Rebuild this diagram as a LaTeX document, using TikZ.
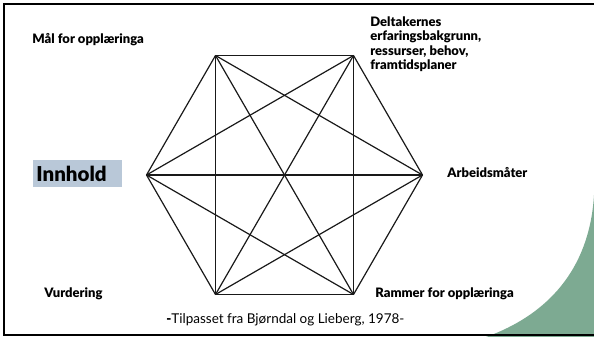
\documentclass[tikz,border=0pt]{standalone}
\usepackage{fontspec}
\setmainfont{Lato}[BoldFont={Lato Black}]
\usetikzlibrary{calc,positioning}
\definecolor{slidegreen}{HTML}{7DAA92}
\definecolor{boxblue}{HTML}{B9C8D8}
\tikzset{every picture/.style={line width=0.75pt}}

\begin{document}
\begin{tikzpicture}[x=1pt,y=-1pt,
    lbl/.style={font=\fontsize{13}{14.2}\selectfont\bfseries, anchor=west, inner sep=0pt, align=left},
    edge/.style={line width=1.2pt, black!90}]
    \useasboundingbox (0,0) rectangle (594,337);
    % green corner
    \fill[slidegreen] (486,337) .. controls (555,312) and (590,262) .. (594,195) -- (594,337) -- cycle;
    % frame
    \draw[line width=2.5pt] (594,4) -- (4,4) -- (4,335) -- (594,335);
    % hexagon corners
    \coordinate (c) at (284.5,175);
    \foreach \i in {1,...,6}
        \coordinate (v\i) at ($(c)+(\i*60:138)$);
    % every corner joined to every other
    \foreach \i in {1,...,6}
        \foreach \j in {1,...,6}
            {\ifnum\i<\j \draw[edge] (v\i) -- (v\j); \fi}
    % labels
    \node[lbl] (mal) at (32,40) {Mål for opplæringa};
    \node[lbl, anchor=north west] (deltakere) at (370,16.5) {Deltakernes\\erfaringsbakgrunn,\\ressurser, behov,\\framtidsplaner};
    \node[fill=boxblue, anchor=west, minimum height=27pt, text width=83pt, inner xsep=3pt,
          font=\fontsize{20.5}{24}\selectfont\bfseries] (innhold) at (33,173.5) {Innhold};
    \node[lbl] (arbeid) at (447,172) {Arbeidsmåter};
    \node[lbl] (vurdering) at (44,294) {Vurdering};
    \node[lbl] (rammer) at (375,294) {Rammer for opplæringa};
    \node[font=\fontsize{13.5}{14}\selectfont, anchor=west, inner sep=0pt] (kilde) at (166,320) {\textbf{-}Tilpasset fra Bjørndal og Lieberg, 1978-};
\end{tikzpicture}
\end{document}
